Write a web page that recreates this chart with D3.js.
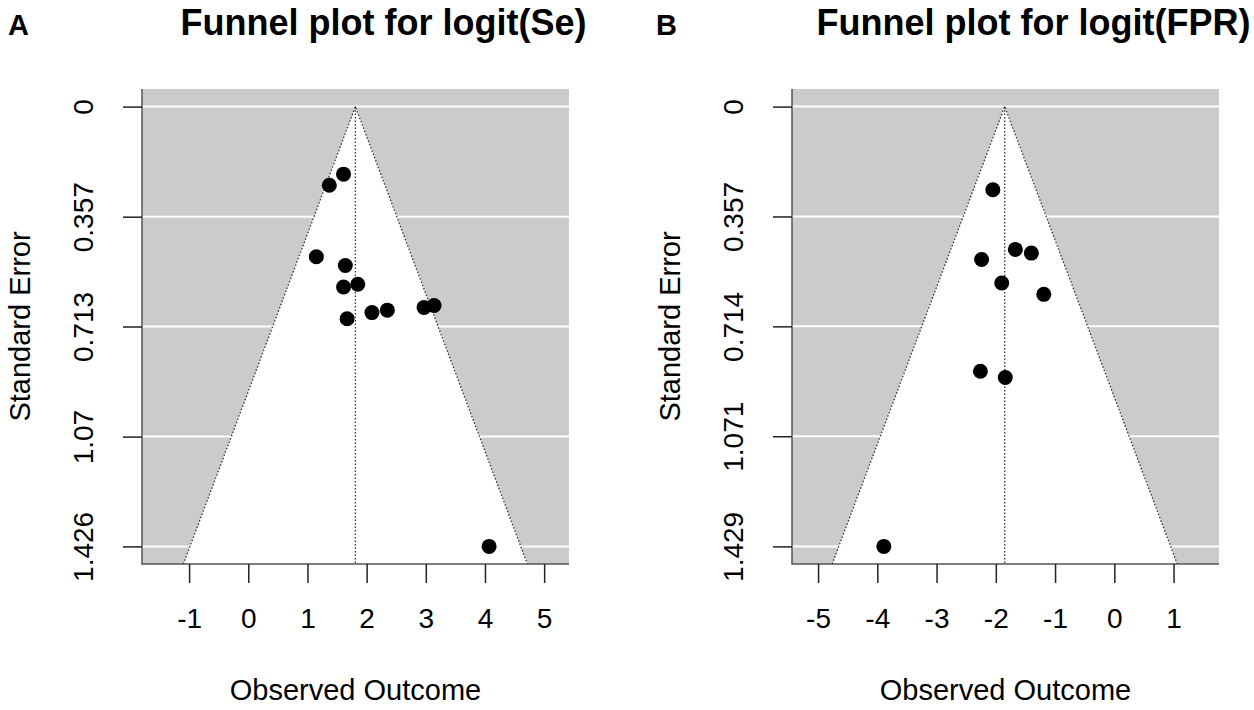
<!DOCTYPE html>
<html>
<head>
<meta charset="utf-8">
<script src="https://cdn.jsdelivr.net/npm/d3@7"></script>
<style>
  body { margin: 0; background: #fff; }
  svg text { font-family: "Liberation Sans", Arial, sans-serif; fill: #000; }
</style>
</head>
<body>
<div id="chart"></div>
<script>
// Panel A: logit(Se)
const seOutcome = [1.61, 1.37, 1.15, 1.64, 1.61, 1.85, 1.67, 2.09, 2.35, 2.97, 3.14, 4.07];
const seStdErr  = [0.219, 0.255, 0.487, 0.515, 0.585, 0.576, 0.688, 0.668, 0.660, 0.651, 0.645, 1.426];
const seEstimate = 1.81;
const seXTicks = [-1, 0, 1, 2, 3, 4, 5];
const seYTicks = [0, 0.357, 0.713, 1.07, 1.426];
const seYLabels = ['0', '0.357', '0.713', '1.07', '1.426'];

// Panel B: logit(FPR)
const fprOutcome = [-2.05, -1.67, -1.40, -2.24, -1.90, -1.19, -2.26, -1.84, -3.89];
const fprStdErr  = [0.270, 0.464, 0.476, 0.497, 0.573, 0.610, 0.860, 0.880, 1.429];
const fprEstimate = -1.85;
const fprXTicks = [-5, -4, -3, -2, -1, 0, 1];
const fprYTicks = [0, 0.357, 0.714, 1.071, 1.429];
const fprYLabels = ['0', '0.357', '0.714', '1.071', '1.429'];

const width = 1254, height = 710;
const svg = d3.select('#chart').append('svg')
    .attr('width', width)
    .attr('height', height);

function funnelPanel(opts) {
    const top = 89, bottom = 564, left = opts.left, right = opts.left + 427;
    const maxSe = d3.max(opts.yTicks);

    const x = d3.scaleLinear().domain(opts.xDomain).range([left, right]);
    const y = d3.scaleLinear().domain([-0.04 * maxSe, 1.04 * maxSe]).range([top, bottom]);
    const seBottom = y.domain()[1];

    const g = svg.append('g');

    // grey background
    g.append('rect')
        .attr('x', left).attr('y', top)
        .attr('width', right - left).attr('height', bottom - top)
        .attr('fill', '#cbcbcb');

    // white horizontal lines at the ticks
    g.selectAll('line.grid')
        .data(opts.yTicks)
        .join('line')
        .attr('class', 'grid')
        .attr('x1', left).attr('x2', right)
        .attr('y1', d => y(d)).attr('y2', d => y(d))
        .attr('stroke', '#fff')
        .attr('stroke-width', 2);

    // pseudo confidence region
    const lo = opts.est - 1.96 * seBottom, hi = opts.est + 1.96 * seBottom;
    const funnel = [[lo, seBottom], [opts.est, 0], [hi, seBottom]];
    const line = d3.line().x(d => x(d[0])).y(d => y(d[1]));
    g.append('path')
        .attr('d', line(funnel) + 'Z')
        .attr('fill', '#fff');
    g.append('path')
        .attr('d', line(funnel))
        .attr('fill', 'none')
        .attr('stroke', '#333')
        .attr('stroke-width', 1.3)
        .attr('stroke-dasharray', '1.5,2');
    g.append('line')
        .attr('x1', x(opts.est)).attr('x2', x(opts.est))
        .attr('y1', y(0)).attr('y2', y(seBottom))
        .attr('stroke', '#333')
        .attr('stroke-width', 1.3)
        .attr('stroke-dasharray', '1.5,2');

    // studies
    g.selectAll('circle')
        .data(opts.outcome.map((v, i) => [v, opts.stdErr[i]]))
        .join('circle')
        .attr('cx', d => x(d[0]))
        .attr('cy', d => y(d[1]))
        .attr('r', 7.5)
        .attr('fill', '#000');

    // L-shaped box
    g.append('path')
        .attr('d', `M${left},${top}V${bottom}H${right}`)
        .attr('fill', 'none')
        .attr('stroke', '#555')
        .attr('stroke-width', 1.5);

    // x axis
    const xAxis = g.append('g')
        .attr('transform', `translate(0,${bottom})`)
        .call(d3.axisBottom(x).tickValues(opts.xTicks).tickSize(19).tickFormat(d3.format('d')));
    xAxis.select('.domain').remove();
    xAxis.selectAll('.tick line').attr('stroke', '#222').attr('stroke-width', 1.5);
    xAxis.selectAll('.tick text')
        .attr('y', 64).attr('dy', 0)
        .style('font-size', '28px')
        .text(d => d < 0 ? '-' + Math.abs(d) : d);

    // y axis
    const yAxis = g.append('g')
        .attr('transform', `translate(${left},0)`)
        .call(d3.axisLeft(y).tickValues(opts.yTicks).tickSize(19).tickFormat((d, i) => opts.yLabels[i]));
    yAxis.select('.domain').remove();
    yAxis.selectAll('.tick line').attr('stroke', '#222').attr('stroke-width', 1.5);
    yAxis.selectAll('.tick text')
        .attr('x', 0).attr('dy', 0)
        .attr('text-anchor', 'middle')
        .attr('transform', 'translate(-49,0) rotate(-90)')
        .style('font-size', '28px');

    // labels
    g.append('text')
        .attr('x', (left + right) / 2).attr('y', 700)
        .attr('text-anchor', 'middle')
        .style('font-size', '29px')
        .text('Observed Outcome');
    g.append('text')
        .attr('transform', `translate(${left - 112},${(top + bottom) / 2}) rotate(-90)`)
        .attr('text-anchor', 'middle')
        .style('font-size', '29px')
        .text('Standard Error');
    g.append('text')
        .attr('x', (left + right) / 2 + 28).attr('y', 35)
        .attr('text-anchor', 'middle')
        .style('font-size', '36px')
        .style('font-weight', 'bold')
        .text(opts.title);
    g.append('text')
        .attr('x', opts.letterX).attr('y', 35)
        .style('font-size', '29px')
        .style('font-weight', 'bold')
        .text(opts.letter);
}

funnelPanel({
    left: 142, xDomain: [-1.796, 5.42], est: seEstimate,
    outcome: seOutcome, stdErr: seStdErr,
    xTicks: seXTicks, yTicks: seYTicks, yLabels: seYLabels,
    title: 'Funnel plot for logit(Se)', letter: 'A', letterX: 8
});

funnelPanel({
    left: 792, xDomain: [-5.44, 1.767], est: fprEstimate,
    outcome: fprOutcome, stdErr: fprStdErr,
    xTicks: fprXTicks, yTicks: fprYTicks, yLabels: fprYLabels,
    title: 'Funnel plot for logit(FPR)', letter: 'B', letterX: 656
});
</script>
</body>
</html>
